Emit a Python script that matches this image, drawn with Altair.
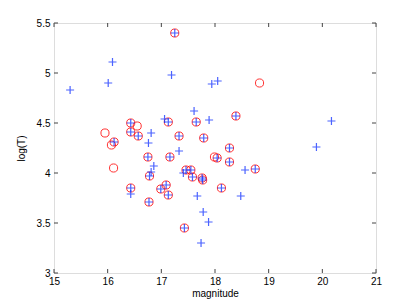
import altair as alt
import pandas as pd

# red circles
circ_x = [17.25, 17.13, 16.43, 16.55, 16.43, 15.95, 16.57, 16.12, 16.07, 17.33,
          18.83, 18.39, 17.65, 17.79, 18.27, 16.75, 17.16, 16.11, 16.78, 16.43,
          17.09, 16.99, 17.13, 16.77, 17.99, 18.04, 18.27, 17.46, 17.55, 18.75,
          17.58, 17.76, 17.77, 18.12, 17.43]
circ_y = [5.40, 4.51, 4.50, 4.47, 4.41, 4.40, 4.37, 4.31, 4.28, 4.37,
          4.90, 4.57, 4.51, 4.35, 4.25, 4.16, 4.16, 4.05, 3.97, 3.85,
          3.88, 3.84, 3.78, 3.71, 4.16, 4.15, 4.11, 4.03, 4.03, 4.04,
          3.96, 3.95, 3.93, 3.85, 3.45]

# blue pluses
plus_x = [15.30, 16.09, 16.01, 17.19, 17.06, 17.13, 17.25, 16.43, 16.43, 16.57,
          16.81, 16.76, 16.12, 17.33, 17.94, 18.05, 17.61, 17.89, 18.39, 17.65,
          17.79, 18.27, 17.33, 20.17, 19.89, 16.75, 17.16, 16.86, 16.81, 16.78,
          16.43, 16.43, 17.09, 16.99, 17.13, 16.77, 18.04, 18.27, 17.46, 17.55,
          17.41, 18.56, 18.75, 17.58, 17.76, 17.77, 18.12, 17.67, 18.48, 17.78,
          17.88, 17.43, 17.74]
plus_y = [4.83, 5.11, 4.90, 4.98, 4.54, 4.51, 5.40, 4.50, 4.41, 4.37,
          4.40, 4.30, 4.31, 4.37, 4.89, 4.92, 4.62, 4.53, 4.57, 4.51,
          4.35, 4.25, 4.22, 4.52, 4.26, 4.16, 4.16, 4.07, 4.01, 3.97,
          3.85, 3.79, 3.88, 3.84, 3.78, 3.71, 4.15, 4.11, 4.03, 4.03,
          4.00, 4.03, 4.04, 3.96, 3.95, 3.93, 3.85, 3.77, 3.77, 3.61,
          3.51, 3.45, 3.30]

x_ticks = [15, 16, 17, 18, 19, 20, 21]
y_ticks = [3, 3.5, 4, 4.5, 5, 5.5]

W, H = 322, 250
circ = pd.DataFrame({"x": circ_x, "y": circ_y})
plus = pd.DataFrame({"x": plus_x, "y": plus_y})
xt = pd.DataFrame({"v": x_ticks})
yt = pd.DataFrame({"v": y_ticks})

xs = alt.Scale(domain=[15, 21], nice=False, zero=False)
ys = alt.Scale(domain=[3, 5.5], nice=False, zero=False)

xaxis = alt.Axis(values=x_ticks, format="~g", title="magnitude", tickSize=0, domain=False, grid=False,
                 labelFontSize=10, labelColor="black", titleFontSize=10,
                 titleFontWeight="normal", titleColor="black", labelPadding=3,
                 titlePadding=2, labelFont="Liberation Sans", titleFont="Liberation Sans",
                 labelFlush=False)
yaxis = alt.Axis(values=y_ticks, format="~g", title="log(T)", tickSize=0, domain=False, grid=False,
                 labelFontSize=10, labelColor="black", titleFontSize=10,
                 titleFontWeight="normal", titleColor="black", labelPadding=4,
                 titlePadding=10, labelFont="Liberation Sans", titleFont="Liberation Sans",
                 labelFlush=False)

base_c = alt.Chart(circ).mark_point(shape="circle", filled=False, color="#ff0000",
                                     strokeWidth=1, opacity=0.8, size=66).encode(
    x=alt.X("x:Q", scale=xs, axis=xaxis),
    y=alt.Y("y:Q", scale=ys, axis=yaxis),
)
base_p = alt.Chart(plus).mark_point(shape="M-1,0L1,0M0,-1L0,1", filled=False,
                                     color="#1030ff", strokeWidth=1.2, opacity=0.75,
                                     size=64).encode(
    x=alt.X("x:Q", scale=xs),
    y=alt.Y("y:Q", scale=ys),
)

tick_col = "#444444"
xb = alt.Chart(xt).mark_rule(color=tick_col).encode(
    x=alt.X("v:Q", scale=xs), y=alt.value(H), y2=alt.value(H - 4))
xtp = alt.Chart(xt).mark_rule(color=tick_col).encode(
    x=alt.X("v:Q", scale=xs), y=alt.value(0), y2=alt.value(4))
yl = alt.Chart(yt).mark_rule(color=tick_col).encode(
    y=alt.Y("v:Q", scale=ys), x=alt.value(0), x2=alt.value(4))
yr = alt.Chart(yt).mark_rule(color=tick_col).encode(
    y=alt.Y("v:Q", scale=ys), x=alt.value(W), x2=alt.value(W - 4))

chart = alt.layer(base_c, base_p, xb, xtp, yl, yr).properties(
    width=W, height=H,
    autosize=alt.AutoSizeParams(type="none"),
    padding={"left": 46, "top": 15, "right": 31, "bottom": 35},
).configure_view(stroke="#555555", strokeWidth=1.2).configure(background="white")

chart.save("out.html", embed_options={"renderer": "svg", "actions": False})
